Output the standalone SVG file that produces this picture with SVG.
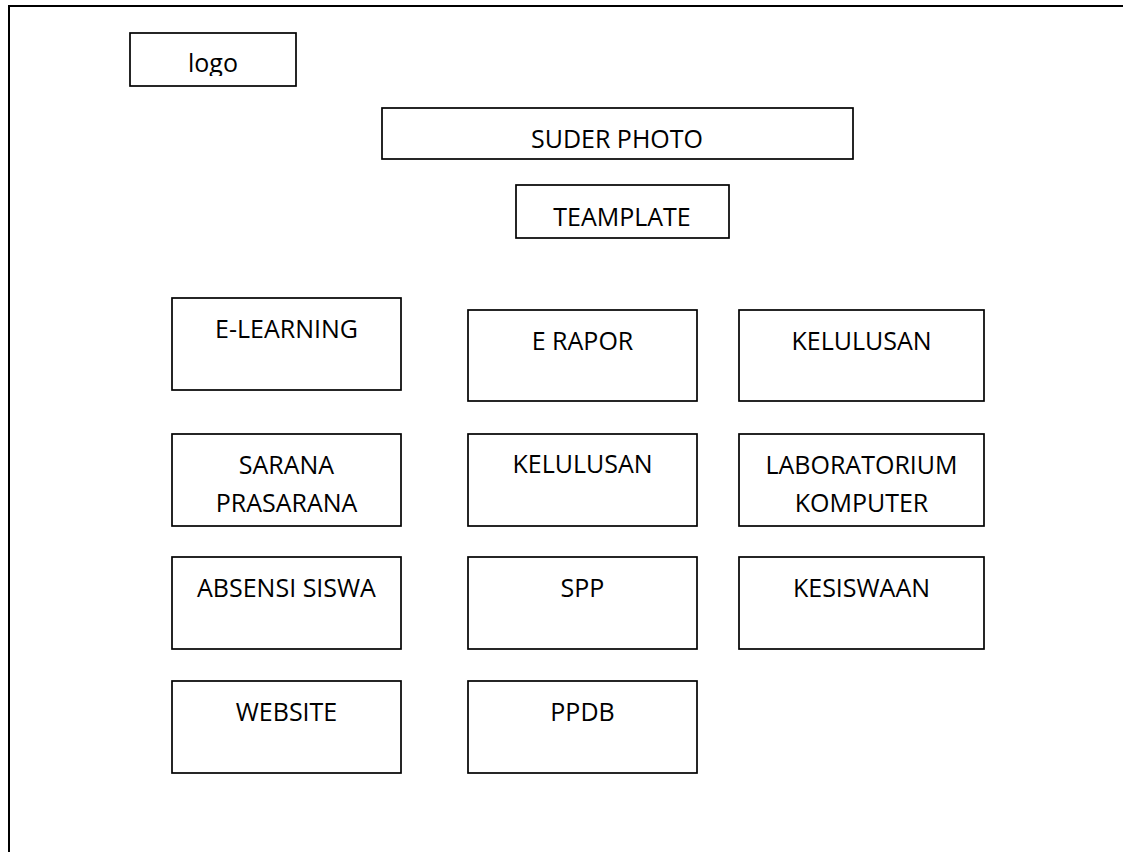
<svg xmlns="http://www.w3.org/2000/svg" width="1123" height="852" viewBox="0 0 1123 852">
<style>
.box{fill:#fff;stroke:#000;stroke-width:1.7}
.lbl{font-family:"Open Sans","Noto Sans","Liberation Sans",sans-serif;font-size:25px;fill:#000;text-anchor:middle}
.frame{fill:none;stroke:#000;stroke-width:2}
</style>
<defs>
<clipPath id="logoClip"><rect x="130" y="33" width="166" height="43"/></clipPath>
</defs>
<rect width="1123" height="852" fill="#fff"/>
<path class="frame" d="M9,852 V6 H1123"/>
<g id="connectors"></g>
<g id="logo"><rect class="box" x="130" y="33" width="166" height="53"/><text class="lbl" x="213" y="72" clip-path="url(#logoClip)">logo</text></g>
<g id="suder-photo"><rect class="box" x="382" y="108" width="471" height="51"/><text class="lbl" x="617" y="148">SUDER PHOTO</text></g>
<g id="teamplate"><rect class="box" x="516" y="185" width="213" height="53"/><text class="lbl" x="622" y="226">TEAMPLATE</text></g>
<g id="e-learning"><rect class="box" x="172" y="298" width="229" height="92"/><text class="lbl" x="286.5" y="338">E-LEARNING</text></g>
<g id="e-rapor"><rect class="box" x="468" y="310" width="229" height="91"/><text class="lbl" x="582.5" y="350">E RAPOR</text></g>
<g id="kelulusan-1"><rect class="box" x="739" y="310" width="245" height="91"/><text class="lbl" x="861.5" y="350">KELULUSAN</text></g>
<g id="sarana"><rect class="box" x="172" y="434" width="229" height="92"/><text class="lbl" x="286.5" y="474">SARANA</text><text class="lbl" x="286.5" y="512">PRASARANA</text></g>
<g id="kelulusan-2"><rect class="box" x="468" y="434" width="229" height="92"/><text class="lbl" x="582.5" y="473">KELULUSAN</text></g>
<g id="laboratorium"><rect class="box" x="739" y="434" width="245" height="92"/><text class="lbl" x="861.5" y="474">LABORATORIUM</text><text class="lbl" x="861.5" y="512">KOMPUTER</text></g>
<g id="absensi"><rect class="box" x="172" y="557" width="229" height="92"/><text class="lbl" x="286.5" y="597">ABSENSI SISWA</text></g>
<g id="spp"><rect class="box" x="468" y="557" width="229" height="92"/><text class="lbl" x="582.5" y="597">SPP</text></g>
<g id="kesiswaan"><rect class="box" x="739" y="557" width="245" height="92"/><text class="lbl" x="861.5" y="597">KESISWAAN</text></g>
<g id="website"><rect class="box" x="172" y="681" width="229" height="92"/><text class="lbl" x="286.5" y="721">WEBSITE</text></g>
<g id="ppdb"><rect class="box" x="468" y="681" width="229" height="92"/><text class="lbl" x="582.5" y="721">PPDB</text></g>
</svg>
